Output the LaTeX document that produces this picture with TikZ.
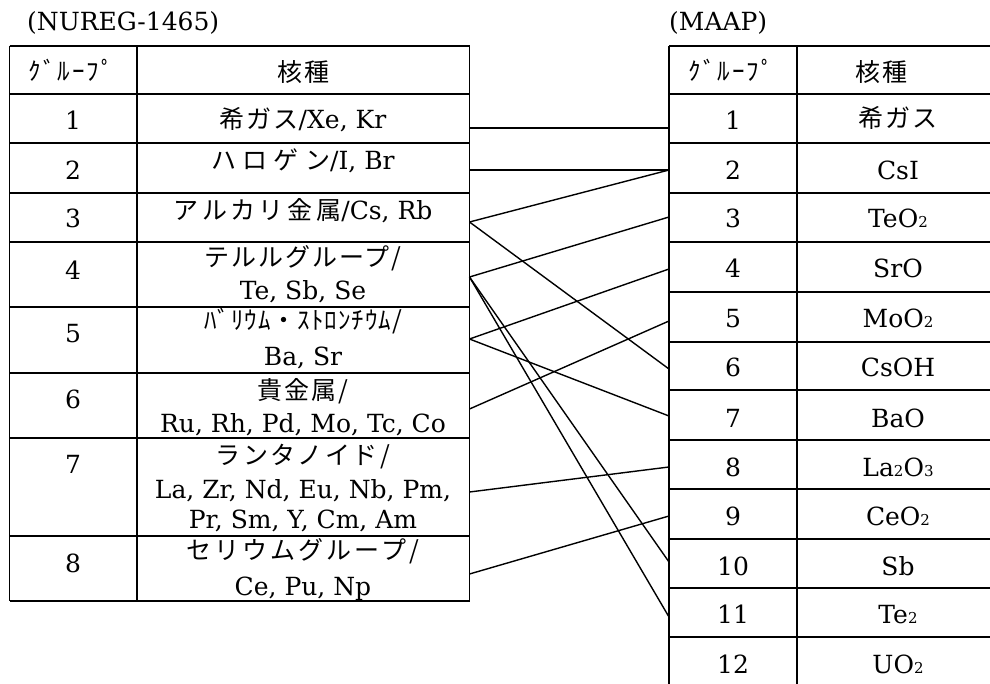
\documentclass[tikz,border=0pt]{standalone}
\usepackage{fontspec}
\setmainfont{DejaVu Serif}
\newfontfamily\jp{Noto Sans CJK JP}[LetterSpace=8]
\newcommand\sbn[1]{{\fontsize{15}{15}\selectfont #1}}
\begin{document}
\begin{tikzpicture}[x=1pt,y=-1pt,
  grid/.style={line width=1.1pt},
  link/.style={line width=1.4pt},
  txt/.style={inner sep=0pt,anchor=base,font=\fontsize{25}{30}\selectfont},
  jtxt/.style={inner sep=0pt,anchor=base,font=\fontsize{25}{30}\selectfont\jp},
  head/.style={inner sep=0pt,anchor=center,font=\fontsize{25}{30}\selectfont\jp}]
\useasboundingbox (0,0) rectangle (990,684);
% titles
\node[txt,anchor=base west] (tl) at (27,31) {(NUREG-1465)};
\node[txt,anchor=base west] (tr) at (669,31) {(MAAP)};
% left grid
\foreach \x in {9.5,137,469.5} \draw[grid] (\x,46) -- (\x,601);
\foreach \y in {46,94,143,193,242,307,373,438,536,601} \draw[grid] (9.5,\y) -- (469.5,\y);
% right grid
\foreach \x in {669,797} \draw[grid] (\x,46) -- (\x,684);
\foreach \y in {46,94,143,193,242,292,342,390,440,489,539,588,637} \draw[grid] (669,\y) -- (990,\y);
% left header
\node[head] (lgh) at (71,70) {ｸﾞﾙｰﾌﾟ};
\node[head] (lkh) at (303,72) {核種};
% left numbers
\node[txt] (ln1) at (73,130) {1};
\node[txt] (ln2) at (73,180) {2};
\node[txt] (ln3) at (73,228) {3};
\node[txt] (ln4) at (73,280) {4};
\node[txt] (ln5) at (73,343) {5};
\node[txt] (ln6) at (73,408) {6};
\node[txt] (ln7) at (73,473) {7};
\node[txt] (ln8) at (73,572) {8};
% left texts
\node[txt] (lt1) at (303,129) {{\jp 希ガス}/Xe, Kr};
\node[txt] (lt2) at (303,170) {{\jp\addfontfeature{LetterSpace=25}ハロゲン}/I, Br};
\node[txt] (lt3) at (303,220) {{\jp\addfontfeature{LetterSpace=15}アルカリ金属}/Cs, Rb};
\node[jtxt] (lt4a) at (303,267) {テルルグループ/};
\node[txt] (lt4b) at (303,300) {Te, Sb, Se};
\node[jtxt,font=\fontsize{25}{30}\selectfont\jp\addfontfeature{LetterSpace=4}] (lt5a) at (303,330) {ﾊﾞﾘｳﾑ・ｽﾄﾛﾝﾁｳﾑ/};
\node[txt] (lt5b) at (303,366) {Ba, Sr};
\node[jtxt] (lt6a) at (303,399) {貴金属/};
\node[txt] (lt6b) at (303,432) {Ru, Rh, Pd, Mo, Tc, Co};
\node[jtxt,font=\fontsize{25}{30}\selectfont\jp\addfontfeature{LetterSpace=10}] (lt7a) at (303,464) {ランタノイド/};
\node[txt] (lt7b) at (303,498) {La, Zr, Nd, Eu, Nb, Pm,};
\node[txt] (lt7c) at (303,528) {Pr, Sm, Y, Cm, Am};
\node[jtxt,font=\fontsize{25}{30}\selectfont\jp\addfontfeature{LetterSpace=12}] (lt8a) at (303,559) {セリウムグループ/};
\node[txt] (lt8b) at (303,595) {Ce, Pu, Np};
% right header
\node[head] (rgh) at (731,70) {ｸﾞﾙｰﾌﾟ};
\node[head] (rkh) at (881,72) {核種};
% right numbers and texts
\foreach \n/\b in {1/130,2/180,3/228,4/278,5/328,6/377,7/427,8/476,9/525,10/575,11/623,12/673}
  \node[txt] (rn\n) at (733,\b) {\n};
\node[jtxt] (rt1) at (898,128) {希ガス};
\node[txt] (rt2) at (898,180) {CsI};
\node[txt] (rt3) at (898,228) {TeO\sbn{2}};
\node[txt] (rt4) at (898,278) {SrO};
\node[txt] (rt5) at (898,328) {MoO\sbn{2}};
\node[txt] (rt6) at (898,377) {CsOH};
\node[txt] (rt7) at (898,427) {BaO};
\node[txt] (rt8) at (898,476) {La\sbn{2}O\sbn{3}};
\node[txt] (rt9) at (898,525) {CeO\sbn{2}};
\node[txt] (rt10) at (898,575) {Sb};
\node[txt] (rt11) at (898,623) {Te\sbn{2}};
\node[txt] (rt12) at (898,673) {UO\sbn{2}};
% connector end points
\coordinate (L1) at (469.5,128);
\coordinate (L2) at (469.5,170);
\coordinate (L3) at (469.5,222);
\coordinate (L4) at (469.5,277);
\coordinate (L5) at (469.5,339);
\coordinate (L6) at (469.5,409);
\coordinate (L7) at (469.5,492);
\coordinate (L8) at (469.5,574);
\coordinate (R1) at (669,128);
\coordinate (R2) at (669,170);
\coordinate (R3) at (669,217);
\coordinate (R4) at (669,269);
\coordinate (R5) at (669,321);
\coordinate (R6) at (669,369);
\coordinate (R7) at (669,416);
\coordinate (R8) at (669,467);
\coordinate (R9) at (669,516);
\coordinate (R10) at (669,562);
\coordinate (R11) at (669,617);
% connectors
\draw[link] (L1) -- (R1);
\draw[link] (L2) -- (R2);
\draw[link] (L3) -- (R2);
\draw[link] (L3) -- (R6);
\draw[link] (L4) -- (R3);
\draw[link] (L4) -- (R10);
\draw[link] (L4) -- (R11);
\draw[link] (L5) -- (R4);
\draw[link] (L5) -- (R7);
\draw[link] (L6) -- (R5);
\draw[link] (L7) -- (R8);
\draw[link] (L8) -- (R9);
\end{tikzpicture}
\end{document}
